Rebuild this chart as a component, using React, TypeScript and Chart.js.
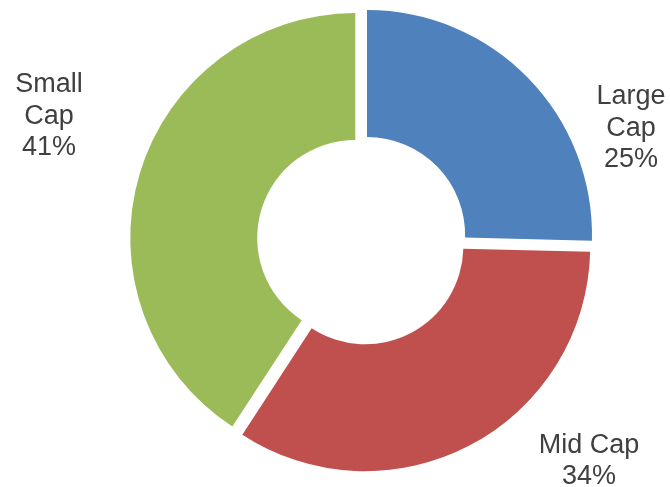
import React, { useEffect, useRef } from "react";
import { Chart, registerables } from "chart.js";

Chart.register(...registerables);

// ---- data ----
const categories = ["Large Cap", "Mid Cap", "Small Cap"];
const labelLines = [["Large", "Cap"], ["Mid Cap"], ["Small", "Cap"]];
const shares = [25.4, 33.8, 40.8];
const percentLabels = ["25%", "34%", "41%"];

// ---- styles / layout ----
const colors = ["#4F81BD", "#C0504D", "#9BBB59"];
const labelOffsets = [
  [269, -114],
  [227, 219],
  [-313, -126],
];
const EXPLODE = 7;
const FONT_SIZE = 27;
const LINE_HEIGHT = 31.5;

const explodePlugin = {
  id: "explodeSlices",
  afterDatasetsUpdate(chart: any) {
    const meta = chart.getDatasetMeta(0);
    meta.data.forEach((arc: any) => {
      const mid = (arc.startAngle + arc.endAngle) / 2;
      arc.x = arc.x + Math.cos(mid) * EXPLODE;
      arc.y = arc.y + Math.sin(mid) * EXPLODE;
    });
  },
};

const labelPlugin = {
  id: "outsideLabels",
  afterDraw(chart: any) {
    const { ctx, chartArea } = chart;
    const cx = (chartArea.left + chartArea.right) / 2;
    const cy = (chartArea.top + chartArea.bottom) / 2;
    ctx.save();
    ctx.fillStyle = "#404040";
    ctx.font = `${FONT_SIZE}px "Liberation Sans", Arial, sans-serif`;
    ctx.textAlign = "center";
    ctx.textBaseline = "alphabetic";
    const capH = FONT_SIZE * 0.716;
    categories.forEach((_, i) => {
      const lines = [...labelLines[i], percentLabels[i]];
      const ax = cx + labelOffsets[i][0];
      const ay = cy + labelOffsets[i][1];
      const n = lines.length;
      lines.forEach((t, j) => {
        const y = ay + (j - (n - 1) / 2) * LINE_HEIGHT + capH / 2;
        ctx.fillText(t, ax, y);
      });
    });
    ctx.restore();
  },
};

export default function App() {
  const ref = useRef<HTMLCanvasElement | null>(null);
  useEffect(() => {
    if (!ref.current) return;
    const chart = new Chart(ref.current, {
      type: "doughnut",
      data: {
        labels: categories,
        datasets: [
          {
            data: shares,
            backgroundColor: colors,
            borderWidth: 0,
            hoverOffset: 0,
          },
        ],
      },
      options: {
        responsive: false,
        animation: false,
        cutout: "43.6%",
        layout: { padding: { left: 137, right: 83, top: 15, bottom: 22 } },
        plugins: {
          legend: { display: false },
          tooltip: { enabled: false },
        },
        events: [],
      },
      plugins: [explodePlugin, labelPlugin],
    });
    return () => chart.destroy();
  }, []);
  return (
    <div style={{ position: "absolute", left: 0, top: 0, width: 670, height: 487, background: "#fff" }}>
      <canvas ref={ref} width={670} height={487} />
    </div>
  );
}
